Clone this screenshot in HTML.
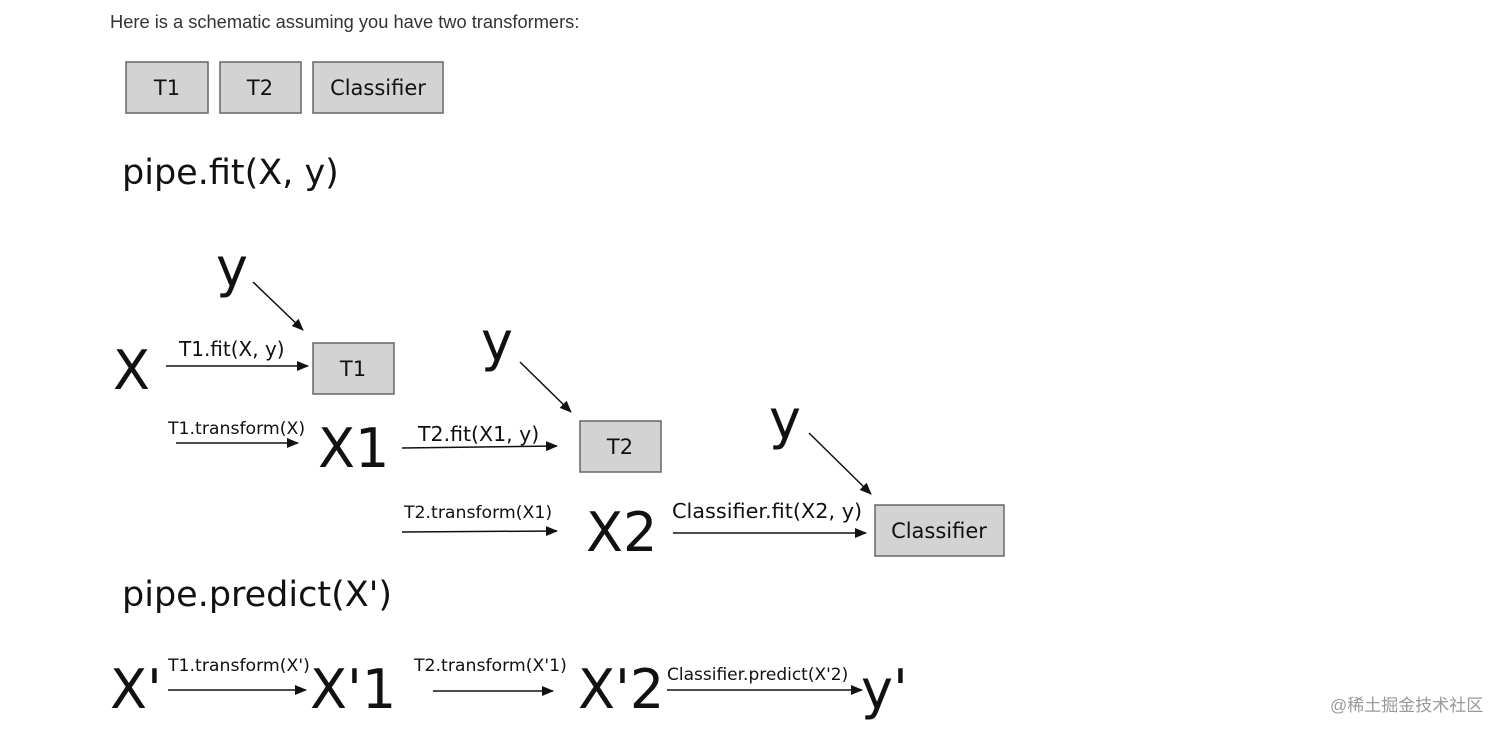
<!DOCTYPE html>
<html><head><meta charset="utf-8"><style>
html,body{margin:0;padding:0;background:#fff;width:1512px;height:737px;overflow:hidden}
svg{display:block}
text{font-family:"DejaVu Sans","Liberation Sans",sans-serif;fill:#111}
.h{font-family:"Liberation Sans",sans-serif;fill:#333}
</style></head><body>
<svg width="1512" height="737" viewBox="0 0 1512 737" xmlns="http://www.w3.org/2000/svg">
<defs><marker id="a" markerWidth="12" markerHeight="10" refX="11" refY="5" orient="auto" markerUnits="userSpaceOnUse"><path d="M0,0 L12,5 L0,10 Z" fill="#111"/></marker></defs>
<text class="h" x="110" y="28" font-size="18.3">Here is a schematic assuming you have two transformers:</text>
<g fill="#d3d3d3" stroke="#666" stroke-width="1.5">
<rect x="126" y="62" width="82" height="51"/><rect x="220" y="62" width="81" height="51"/><rect x="313" y="62" width="130" height="51"/>
<rect x="313" y="343" width="81" height="51"/><rect x="580" y="421" width="81" height="51"/><rect x="875" y="505" width="129" height="51"/>
</g>
<g font-size="21" text-anchor="middle">
<text x="167" y="95">T1</text><text x="260" y="95">T2</text><text x="378" y="95">Classifier</text>
<text x="353" y="376">T1</text><text x="620" y="454">T2</text><text x="939" y="538">Classifier</text>
</g>
<text x="122" y="184" font-size="35">pipe.fit(X, y)</text>
<text x="122" y="606" font-size="35">pipe.predict(X')</text>
<g font-size="54">
<text x="216" y="286">y</text><text x="113" y="389">X</text><text x="481" y="360">y</text>
<text x="318" y="467">X1</text><text x="769" y="438">y</text><text x="586" y="551">X2</text>
<text x="110" y="708">X'</text><text x="310" y="708">X'1</text><text x="578" y="708">X'2</text><text x="861" y="708">y'</text>
</g>
<g stroke="#111" stroke-width="1.5" marker-end="url(#a)">
<line x1="253" y1="282" x2="303" y2="330"/><line x1="166" y1="366" x2="308" y2="366"/>
<line x1="520" y1="362" x2="571" y2="412"/><line x1="176" y1="443" x2="298" y2="443"/>
<line x1="402" y1="448" x2="557" y2="446"/><line x1="809" y1="433" x2="871" y2="494"/>
<line x1="402" y1="532" x2="557" y2="531"/><line x1="673" y1="533" x2="866" y2="533"/>
<line x1="168" y1="690" x2="306" y2="690"/><line x1="433" y1="691" x2="553" y2="691"/>
<line x1="667" y1="690" x2="862" y2="690"/>
</g>
<text x="179" y="356" font-size="20">T1.fit(X, y)</text>
<text x="168" y="434" font-size="17.3">T1.transform(X)</text>
<text x="418" y="441" font-size="20.5">T2.fit(X1, y)</text>
<text x="404" y="518" font-size="17.3">T2.transform(X1)</text>
<text x="672" y="518" font-size="20.8">Classifier.fit(X2, y)</text>
<text x="168" y="671" font-size="17.3">T1.transform(X')</text>
<text x="414" y="671" font-size="17.3">T2.transform(X'1)</text>
<text x="667" y="680" font-size="17">Classifier.predict(X'2)</text>
<text class="h" x="1330" y="711" font-size="17" style="fill:#999;font-family:'Liberation Sans','Noto Sans CJK SC',sans-serif">@稀土掘金技术社区</text>
</svg>
</body></html>
